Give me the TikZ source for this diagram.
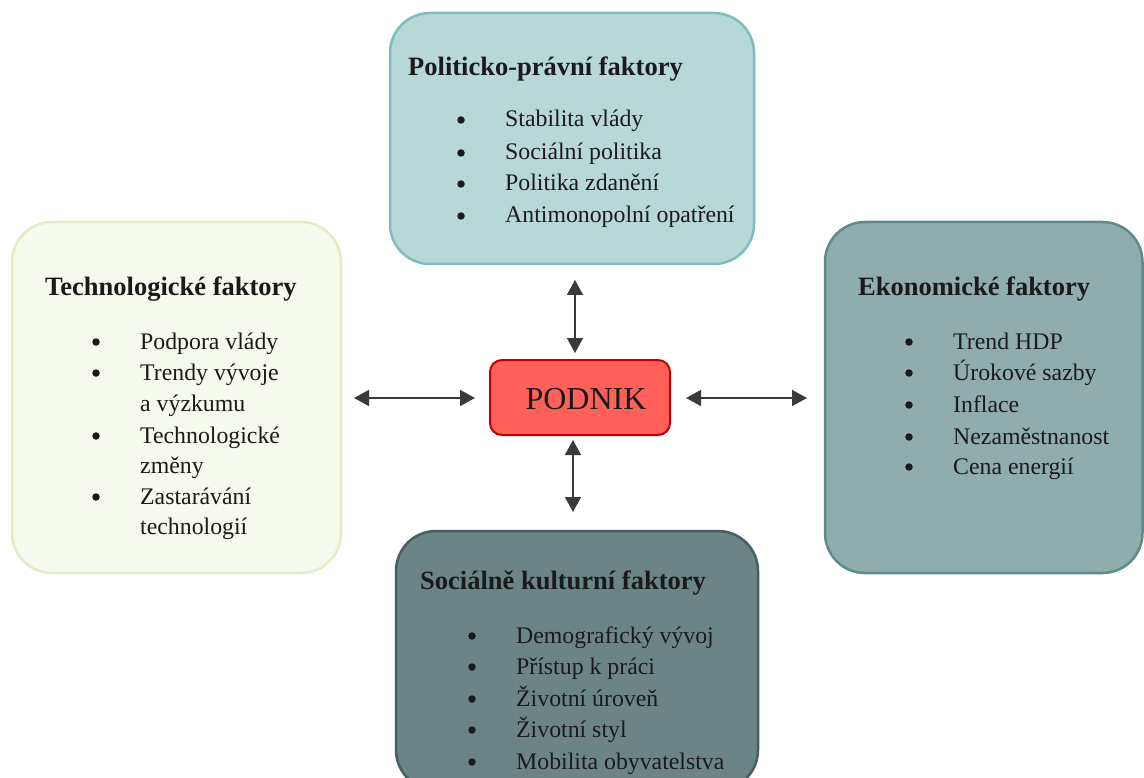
\documentclass[tikz,border=0pt]{standalone}
\usepackage{fontspec}
\setmainfont{Liberation Serif}
\usetikzlibrary{arrows.meta}
\definecolor{topfill}{HTML}{B8D8D8}
\definecolor{topdraw}{HTML}{7DBDBA}
\definecolor{leftfill}{HTML}{F5F9EE}
\definecolor{leftdraw}{HTML}{E2EDC6}
\definecolor{rightfill}{HTML}{8FADAD}
\definecolor{rightdraw}{HTML}{5F8A8A}
\definecolor{botfill}{HTML}{6B8587}
\definecolor{botdraw}{HTML}{465F61}
\definecolor{corefill}{HTML}{FF6059}
\definecolor{coredraw}{HTML}{C00000}
\definecolor{arr}{HTML}{3A3A3A}
\definecolor{txt}{HTML}{1A1A1A}
\tikzset{
  factorbox/.style={line width=2.5pt, rounded corners=40pt},
  ttl/.style={anchor=base west, inner sep=0pt, font=\fontsize{26.5}{30}\selectfont\bfseries, text=txt},
  itm/.style={anchor=base west, inner sep=0pt, font=\fontsize{23.8}{28}\selectfont, text=txt},
  bul/.style={circle, fill=txt, inner sep=0pt, minimum size=7.5pt},
  link/.style={line width=1.5pt, draw=arr, {Triangle[length=15pt,width=16pt]}-{Triangle[length=15pt,width=16pt]}},
}
\begin{document}
\begin{tikzpicture}[x=1pt,y=-1pt]
\useasboundingbox (0,0) rectangle (1144,778);
\clip (0,0) rectangle (1144,778);
% boxes
\draw[factorbox, fill=topfill, draw=topdraw] (390,13) rectangle (754,264);
\draw[factorbox, fill=leftfill, draw=leftdraw] (12,222) rectangle (341,573);
\draw[factorbox, fill=rightfill, draw=rightdraw] (825,222) rectangle (1142.5,573);
\draw[factorbox, fill=botfill, draw=botdraw] (396,531) rectangle (758,790);
% centre
\node[draw=coredraw, fill=corefill, line width=2pt, rounded corners=12pt, minimum width=180pt, minimum height=75pt, inner sep=0pt] (core) at (580,397.5) {};
\node[inner sep=0pt, font=\fontsize{32}{36}\selectfont, text=txt, anchor=base] (coretext) at (586,409) {PODNIK};
\coordinate (tA) at (575,280);
\coordinate (tB) at (575,353);
\coordinate (lA) at (354,398);
\coordinate (lB) at (475,398);
\coordinate (rA) at (686,398);
\coordinate (rB) at (807,398);
\coordinate (bA) at (573,440);
\coordinate (bB) at (573,512);
\draw[link] (tA) -- (tB);
\draw[link] (lA) -- (lB);
\draw[link] (rA) -- (rB);
\draw[link] (bA) -- (bB);
% top box text
\node[ttl] (t0) at (408,76) {Politicko-právní faktory};
\foreach \y/\t [count=\i] in {127/Stabilita vlády, 160/Sociální politika, 191/Politika zdanění, 223/Antimonopolní opatření}{
  \node[bul] (tb\i) at (461,\y-7) {};
  \node[itm] (ti\i) at (505,\y) {\t};
}
% left box text
\node[ttl] (l0) at (45,296) {Technologické faktory};
\foreach \y/\t [count=\i] in {349/Podpora vlády, 380/Trendy vývoje, 411/a výzkumu, 443/Technologické, 473/změny, 504/Zastarávání, 534/technologií}{
  \node[itm] (li\i) at (140,\y) {\t};
}
\foreach \y [count=\i] in {349,380,443,504}{
  \node[bul] (lb\i) at (96,\y-7) {};
}
% right box text
\node[ttl] (r0) at (858,296) {Ekonomické faktory};
\foreach \y/\t [count=\i] in {349/Trend HDP, 380/Úrokové sazby, 412/Inflace, 444/Nezaměstnanost, 474/Cena energií}{
  \node[bul] (rb\i) at (909,\y-7) {};
  \node[itm] (ri\i) at (953,\y) {\t};
}
% bottom box text
\node[ttl] (b0) at (420,589) {Sociálně kulturní faktory};
\foreach \y/\t [count=\i] in {643/Demografický vývoj, 674/Přístup k práci, 706/Životní úroveň, 737/Životní styl, 769/Mobilita obyvatelstva}{
  \node[bul] (bb\i) at (472,\y-7) {};
  \node[itm] (bi\i) at (516,\y) {\t};
}
\end{tikzpicture}
\end{document}
